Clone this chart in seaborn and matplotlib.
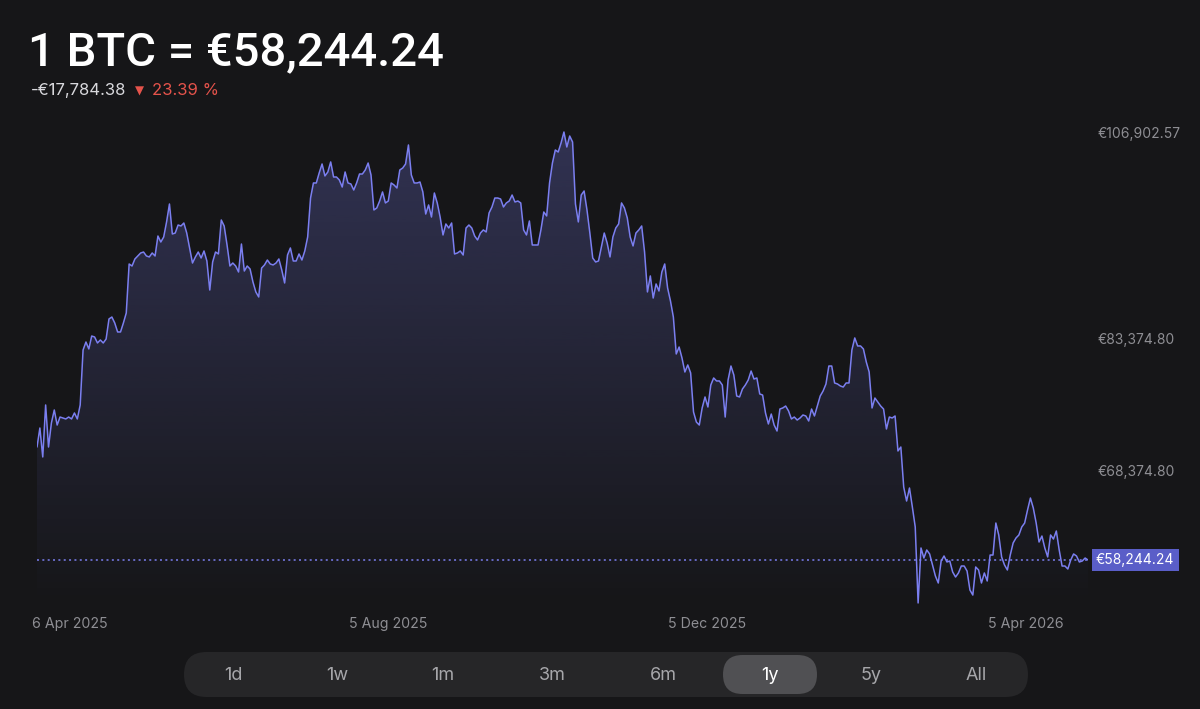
import numpy as np
import pandas as pd
import seaborn as sns
import matplotlib.pyplot as plt
from matplotlib.patches import FancyBboxPatch
from matplotlib.colors import to_rgb

# daily BTC/EUR closes, 6 Apr 2025 -> 6 Apr 2026
prices = [
    71090, 73250, 69960, 75870, 71090, 73820, 75300, 73590, 74500, 74390,
    74280, 74500, 74280, 74960, 74280, 75870, 82120, 83030, 82240, 83710,
    83600, 82920, 83260, 82920, 83370, 85650, 85870, 85190, 84170, 84170,
    85190, 86330, 91900, 91670, 92470, 92810, 93150, 93260, 92810, 92700,
    93150, 92810, 95080, 94400, 94970, 96680, 98720, 95310, 95420, 96330,
    96220, 96560, 95420, 93720, 92010, 92700, 93260, 92580, 93380, 92240,
    88940, 92130, 93260, 93040, 96900, 96220, 94060, 91670, 92010, 91670,
    90990, 94170, 91100, 91670, 91330, 89850, 88720, 88150, 91440, 91790,
    92350, 91900, 91790, 92010, 92470, 91220, 89740, 92920, 93720, 92240,
    92240, 93040, 92350, 93380, 94970, 99400, 101110, 101110, 102250, 103270,
    101910, 102360, 103500, 101790, 101790, 101450, 100650, 102360, 101110, 101000,
    100310, 101110, 102130, 102130, 102590, 103380, 102020, 98040, 98270, 99060,
    100090, 98840, 99060, 101110, 100880, 100540, 102590, 102810, 103270, 105430,
    102020, 101110, 101110, 101220, 100090, 97580, 98610, 97240, 99970, 98840,
    97240, 95200, 96450, 95990, 96560, 93040, 93150, 93380, 92920, 95990,
    96330, 95990, 95080, 94630, 95420, 95770, 95540, 97700, 98380, 99400,
    99400, 99290, 98380, 98840, 99060, 99740, 98950, 99060, 98840, 95770,
    95200, 96790, 94060, 94060, 94060, 95770, 97810, 97360, 101110, 103380,
    104860, 104630, 105660, 106902.57, 105200, 106450, 105770, 98720, 96680, 99740,
    100200, 98040, 95420, 92580, 92130, 92240, 93830, 95420, 94290, 92700,
    94970, 95990, 96450, 98840, 98270, 97130, 94970, 93950, 95420, 95770,
    96220, 93260, 88720, 90540, 88030, 89630, 88830, 90990, 91900, 89170,
    87690, 85870, 81670, 82460, 81210, 79620, 80420, 79510, 75070, 73930,
    73590, 75530, 76780, 75640, 78140, 78940, 78600, 78600, 78140, 74500,
    78710, 80300, 79280, 76890, 76780, 77690, 78140, 78710, 79730, 78820,
    78940, 77120, 77000, 74960, 73710, 74840, 73590, 72910, 75410, 75530,
    75750, 75190, 74280, 74500, 74160, 74390, 74730, 74620, 74050, 75410,
    74620, 75750, 76890, 77460, 78260, 80300, 80300, 78370, 78260, 78030,
    77910, 78370, 78370, 82120, 83490, 82580, 82580, 82240, 80760, 79620,
    75530, 76660, 76210, 75750, 75410, 73140, 74500, 74390, 74620, 70640,
    71090, 66540, 64950, 66430, 64270, 62000, 53360, 59610, 58470, 59380,
    58930, 57680, 56430, 55630, 58130, 58700, 58020, 58130, 56880, 56310,
    56770, 57560, 57560, 56990, 54830, 54260, 57450, 57110, 55630, 56770,
    55860, 58810, 58810, 62450, 61090, 58590, 57680, 57110, 58810, 60180,
    60750, 61090, 62000, 62450, 63930, 65290, 64160, 62450, 60290, 60970,
    59610, 58590, 61090, 60630, 61540, 59380, 57560, 57560, 57220, 58240,
    58930, 58700, 58020, 58130, 58470, 58244.24,
]
current_price = 58244.24
change_abs = "-€17,784.38"
change_pct = "23.39 %"
axis_prices = [106902.57, 83374.80, 68374.80]
date_labels = ["6 Apr 2025", "5 Aug 2025", "5 Dec 2025", "5 Apr 2026"]
ranges = ["1d", "1w", "1m", "3m", "6m", "1y", "5y", "All"]
selected = "1y"

BG = "#161618"
LINE = "#7b7ff0"
GRAY = "#8e8e93"

sns.set_theme(style="dark", rc={"figure.facecolor": BG, "axes.facecolor": BG,
                                "savefig.facecolor": BG})
plt.rcParams["font.family"] = ["Inter", "DejaVu Sans"]

df = pd.DataFrame({"day": np.arange(len(prices)), "price": prices})
ndays = len(prices) - 1

fig = plt.figure(figsize=(12, 7.09), dpi=100)
ax = fig.add_axes([37 / 1200, 99 / 709, 1051 / 1200, 490 / 709])
ylim = (52560, 108270)

sns.lineplot(data=df, x="day", y="price", ax=ax, color=LINE, linewidth=1.1, zorder=3)

# gradient area under the line
poly = ax.fill_between(df["day"], df["price"], ylim[0], color="none")
r, g, b = to_rgb(LINE)
grad = np.zeros((256, 1, 4))
grad[:, 0, 0], grad[:, 0, 1], grad[:, 0, 2] = r, g, b
grad[:, 0, 3] = np.linspace(0.27, 0.0, 256)
im = ax.imshow(grad, aspect="auto", origin="upper", zorder=1,
               extent=[0, ndays, ylim[0], max(prices)])
im.set_clip_path(poly.get_paths()[0], transform=ax.transData)

ax.axhline(current_price, color=LINE, lw=1.1, ls=(0, (1.3, 2.2)), zorder=2)

ax.set_xlim(0, ndays)
ax.set_ylim(*ylim)
ax.set(xlabel="", ylabel="")
ax.grid(False)
for s in ax.spines.values():
    s.set_visible(False)

ax.yaxis.tick_right()
ax.set_yticks(axis_prices)
ax.set_yticklabels([f"€{v:,.2f}" for v in axis_prices])
ax.set_xticks([f * ndays for f in (0.031, 0.334, 0.638, 0.941)])
ax.set_xticklabels(date_labels)
ax.tick_params(axis="y", length=0, pad=7, labelsize=10, labelcolor=GRAY)
ax.tick_params(axis="x", length=0, pad=5, labelsize=10.2, labelcolor=GRAY)

ax.text(1 + 8 / 1051, current_price, f"€{current_price:,.2f}",
        transform=ax.get_yaxis_transform(), ha="left", va="center",
        color="white", fontsize=10, zorder=5,
        bbox=dict(boxstyle="square,pad=0.32", fc="#5a5ec8", ec="none"))

# header + range selector, in pixel coordinates
ui = fig.add_axes([0, 0, 1, 1], facecolor="none")
ui.set_xlim(0, 1200)
ui.set_ylim(709, 0)
ui.axis("off")

ui.text(28, 65, f"1 BTC = €{current_price:,.2f}", color="white", fontsize=34,
        ha="left", va="baseline", family=["Roboto", "DejaVu Sans"], fontweight="medium")
ui.text(31, 95, change_abs, color="#d8d8dc", fontsize=12, ha="left", va="baseline")
ui.text(135, 95, "▼", color="#e5534b", fontsize=8.5, ha="left", va="baseline",
        family=["DejaVu Sans"])
ui.text(152, 95, change_pct, color="#e5534b", fontsize=12, ha="left", va="baseline")

ui.add_patch(FancyBboxPatch((184, 652), 844, 45,
                            boxstyle="round,pad=0,rounding_size=22.5",
                            fc="#262628", ec="none"))
label_x = [233, 337, 443, 552, 663, 770, 871, 976]
for lab, x in zip(ranges, label_x):
    if lab == selected:
        ui.add_patch(FancyBboxPatch((x - 47, 655), 94, 39,
                                    boxstyle="round,pad=0,rounding_size=19.5",
                                    fc="#505053", ec="none"))
    ui.text(x, 676, lab, color="white" if lab == selected else "#a6a6aa",
            fontsize=13, ha="center", va="center")

fig.savefig("out.png", dpi=100, facecolor=BG)
